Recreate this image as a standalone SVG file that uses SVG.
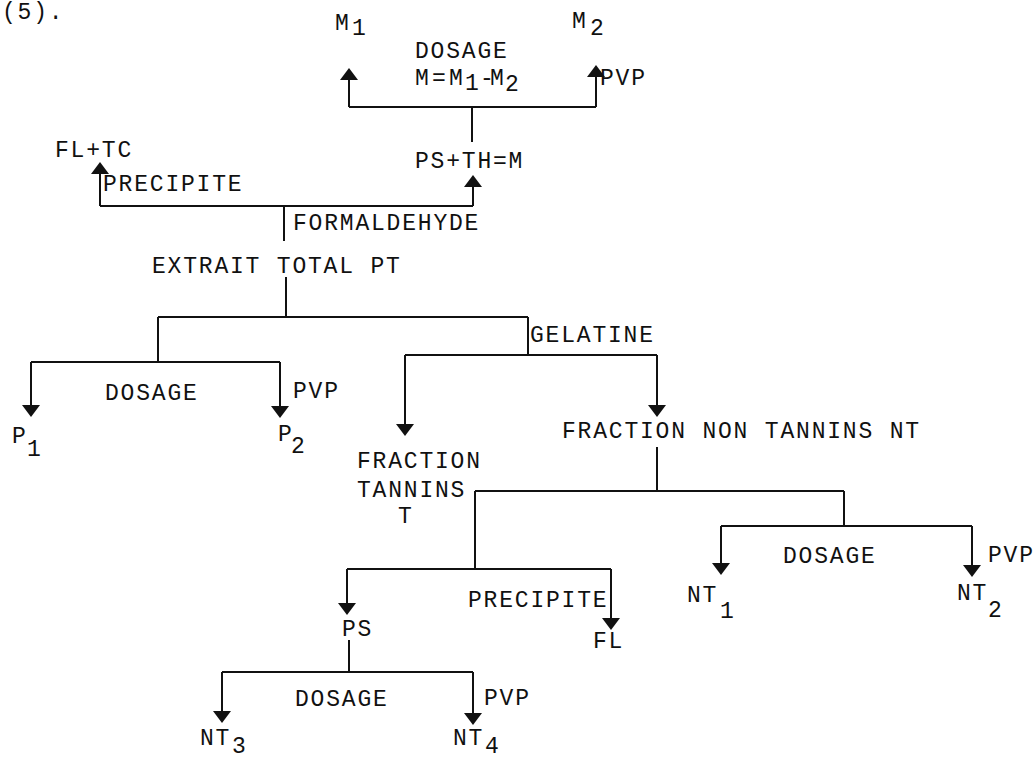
<svg xmlns="http://www.w3.org/2000/svg" width="1035" height="760" viewBox="0 0 1035 760">
<defs>
<style>
text{font-family:"Liberation Mono","DejaVu Sans Mono",monospace;font-size:23px;letter-spacing:1.8px;fill:#111}
.c line{stroke:#111;stroke-width:2;fill:none}
.c .a{marker-end:url(#ah)}
</style>
<marker id="ah" markerUnits="userSpaceOnUse" viewBox="0 0 12 18" refX="3" refY="9" markerWidth="12" markerHeight="18" orient="auto">
<path d="M0,0 L12,9 L0,18 Z" fill="#111"/>
</marker>
</defs>
<rect width="1035" height="760" fill="#fff"/>
<g id="connectors" class="c">
<line class="a" x1="349" y1="107" x2="349" y2="77"/>
<line class="a" x1="596" y1="107" x2="596" y2="74"/>
<line x1="349" y1="107" x2="596" y2="107"/>
<line x1="472" y1="107" x2="472" y2="142"/>
<line class="a" x1="473" y1="206" x2="473" y2="184"/>
<line x1="100" y1="206" x2="473" y2="206"/>
<line class="a" x1="100" y1="206" x2="100" y2="171"/>
<line x1="284" y1="206" x2="284" y2="241"/>
<line x1="286" y1="277" x2="286" y2="317"/>
<line x1="158" y1="317" x2="528" y2="317"/>
<line x1="158" y1="317" x2="158" y2="362"/>
<line x1="31" y1="362" x2="280" y2="362"/>
<line class="a" x1="31" y1="362" x2="31" y2="408"/>
<line class="a" x1="280" y1="362" x2="280" y2="409"/>
<line x1="528" y1="317" x2="528" y2="355"/>
<line x1="405" y1="355" x2="657" y2="355"/>
<line class="a" x1="405" y1="355" x2="405" y2="427"/>
<line class="a" x1="657" y1="355" x2="657" y2="408"/>
<line x1="657" y1="447" x2="657" y2="491"/>
<line x1="475" y1="491" x2="844" y2="491"/>
<line x1="844" y1="491" x2="844" y2="526"/>
<line x1="721" y1="526" x2="972" y2="526"/>
<line class="a" x1="721" y1="526" x2="721" y2="566"/>
<line class="a" x1="972" y1="526" x2="972" y2="568"/>
<line x1="475" y1="491" x2="475" y2="569"/>
<line x1="347" y1="569" x2="611" y2="569"/>
<line class="a" x1="347" y1="569" x2="347" y2="606"/>
<line class="a" x1="611" y1="569" x2="611" y2="621"/>
<line x1="349" y1="640" x2="349" y2="672"/>
<line x1="222" y1="672" x2="473" y2="672"/>
<line class="a" x1="222" y1="672" x2="222" y2="714"/>
<line class="a" x1="473" y1="672" x2="473" y2="716"/>
</g>
<g id="label-5"><text x="2" y="19">(5).</text></g>
<g id="node-m1"><text x="335" y="30">M</text><text x="352" y="35">1</text></g>
<g id="node-m2"><text x="572" y="28">M</text><text x="590" y="35">2</text></g>
<g id="label-dosage-m"><text x="415" y="58">DOSAGE</text><text x="415 432 449" y="85" letter-spacing="0">M=M</text><text x="465" y="90" letter-spacing="0">1</text><text x="480 490" y="85" letter-spacing="0">-M</text><text x="505" y="91" letter-spacing="0">2</text></g>
<g id="label-pvp-m"><text x="600" y="85">PVP</text></g>
<g id="node-psthm"><text x="415" y="168">PS+TH=M</text></g>
<g id="node-fltc"><text x="55" y="157">FL+TC</text></g>
<g id="label-precipite-1"><text x="103" y="191">PRECIPITE</text></g>
<g id="label-formaldehyde"><text x="293" y="230">FORMALDEHYDE</text></g>
<g id="node-extrait"><text x="152" y="273">EXTRAIT TOTAL PT</text></g>
<g id="label-gelatine"><text x="530" y="342">GELATINE</text></g>
<g id="label-dosage-p"><text x="105" y="400">DOSAGE</text></g>
<g id="label-pvp-p"><text x="293" y="398">PVP</text></g>
<g id="node-p1"><text x="12" y="443">P</text><text x="27" y="456">1</text></g>
<g id="node-p2"><text x="278" y="441">P</text><text x="291" y="453">2</text></g>
<g id="node-nt"><text x="562" y="438">FRACTION NON TANNINS NT</text></g>
<g id="node-t"><text x="357" y="468">FRACTION</text><text x="357" y="497">TANNINS</text><text x="398" y="523">T</text></g>
<g id="label-dosage-nt"><text x="783" y="563">DOSAGE</text></g>
<g id="label-pvp-nt"><text x="988" y="562">PVP</text></g>
<g id="node-nt1"><text x="687" y="602">NT</text><text x="720" y="618">1</text></g>
<g id="node-nt2"><text x="957" y="600">NT</text><text x="988" y="617">2</text></g>
<g id="label-precipite-2"><text x="468" y="607">PRECIPITE</text></g>
<g id="node-ps"><text x="342" y="636">PS</text></g>
<g id="node-fl"><text x="593" y="648">FL</text></g>
<g id="label-dosage-ps"><text x="295" y="706">DOSAGE</text></g>
<g id="label-pvp-ps"><text x="484" y="705">PVP</text></g>
<g id="node-nt3"><text x="200" y="745">NT</text><text x="232" y="753">3</text></g>
<g id="node-nt4"><text x="453" y="745">NT</text><text x="485" y="753">4</text></g>
</svg>
